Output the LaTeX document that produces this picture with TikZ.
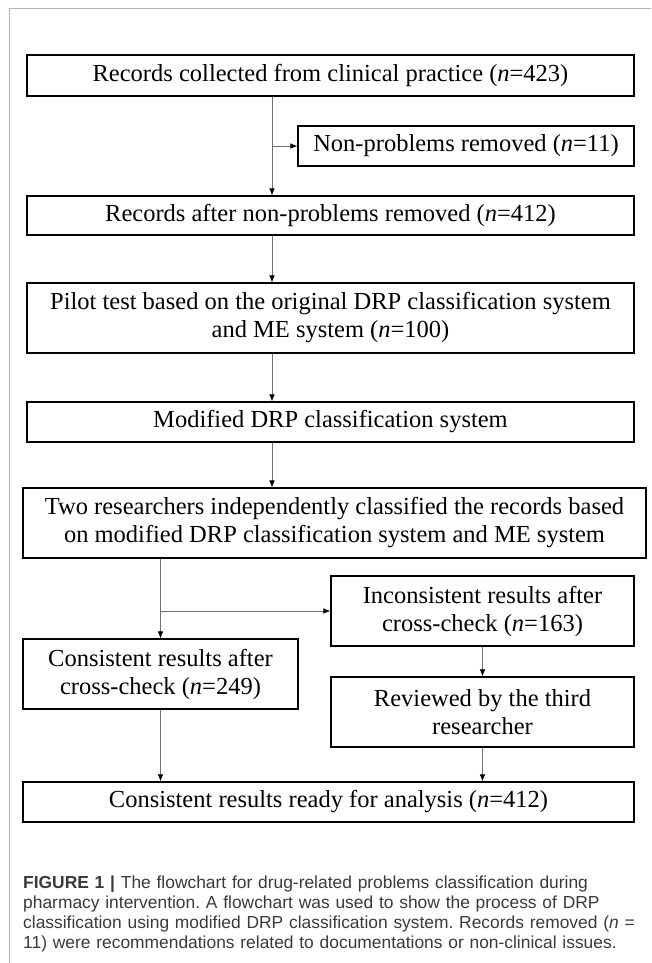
\documentclass[tikz,border=0pt]{standalone}
\usepackage{fontspec}
\setmainfont{Liberation Serif}
\setsansfont{Liberation Sans}
\usetikzlibrary{arrows.meta}
\definecolor{framegray}{HTML}{B4B4B4}
\definecolor{linkgray}{HTML}{707070}
\definecolor{capgray}{HTML}{3A3A3A}
\tikzset{
  stage/.style={draw=black, line width=1.1pt, inner sep=0pt, align=center,
    font=\fontsize{24.5}{28}\selectfont},
  link/.style={draw=linkgray, line width=0.8pt,
    -{Latex[length=7pt,width=5.5pt,color=black]}},
}
\frenchspacing
\begin{document}
\begin{tikzpicture}[x=1pt,y=-1pt]
    \useasboundingbox (0,0) rectangle (651,963);
    \fill[white] (0,0) rectangle (651,963);
    \draw[framegray, line width=1pt] (9,963) -- (9,9) -- (651,9);
    % boxes
    \node[stage, minimum width=607pt, minimum height=41pt] (rec) at (330.5,75.5) {Records collected from clinical practice (\textit{n}=423)};
    \node[stage, minimum width=336pt, minimum height=40pt] (nonp) at (466,146) {Non-problems removed (\textit{n}=11)};
    \node[stage, minimum width=607pt, minimum height=39pt] (kept) at (330.5,215.5) {Records after non-problems removed (\textit{n}=412)};
    \node[stage, minimum width=607pt, minimum height=70pt] (pilot) at (330.5,318) {Pilot test based on the original DRP classification system\\ and ME system (\textit{n}=100)};
    \node[stage, minimum width=607pt, minimum height=40pt] (moddrp) at (330.5,422) {Modified DRP classification system};
    \node[stage, minimum width=623pt, minimum height=70pt] (indep) at (334.5,523) {Two researchers independently classified the records based\\ on modified DRP classification system and ME system};
    \node[stage, minimum width=275pt, minimum height=70pt] (cons) at (160.5,674) {Consistent results after\\ cross-check (\textit{n}=249)};
    \node[stage, minimum width=303pt, minimum height=70pt] (incons) at (482.5,611) {Inconsistent results after\\ cross-check (\textit{n}=163)};
    \node[stage, minimum width=303pt, minimum height=70pt] (third) at (482.5,712) {Reviewed by the third\\ researcher};
    \node[stage, minimum width=611pt, minimum height=40pt] (final) at (328.5,802) {Consistent results ready for analysis (\textit{n}=412)};
    % connectors
    \coordinate (trunk) at (272,0);
    \coordinate (split1) at (272,146);
    \coordinate (split2) at (cons |- incons);
    \draw[link] (rec.south -| trunk) -- (kept.north -| trunk);
    \draw[link] (split1) -- (nonp.west);
    \draw[link] (kept.south -| trunk) -- (pilot.north -| trunk);
    \draw[link] (pilot.south -| trunk) -- (moddrp.north -| trunk);
    \draw[link] (moddrp.south -| trunk) -- (indep.north -| trunk);
    \draw[link] (indep.south -| cons) -- (cons.north);
    \draw[link] (split2) -- (incons.west);
    \draw[link] (incons.south) -- (third.north);
    \draw[link] (cons.south) -- (cons.south |- final.north);
    \draw[link] (third.south) -- (third.south |- final.north);
    % caption
    \node[anchor=north west, inner sep=0pt, text width=640pt, align=left,
      font=\sffamily\fontsize{17.4}{20}\selectfont, text=capgray] (cap) at (23,876)
      {\textbf{FIGURE 1 |} The flowchart for drug-related problems classification during\\
       pharmacy intervention. A flowchart was used to show the process of DRP\\
       classification using modified DRP classification system. Records removed (\textit{n} =\\
       11) were recommendations related to documentations or non-clinical issues.};
\end{tikzpicture}
\end{document}
